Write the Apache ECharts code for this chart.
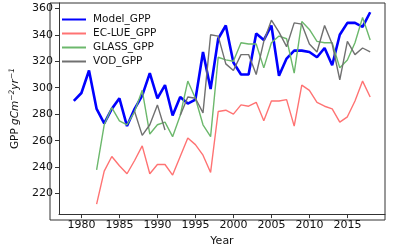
<!DOCTYPE html>
<html>
<head>
<meta charset="utf-8">
<script src="https://cdn.jsdelivr.net/npm/echarts@6/dist/echarts.min.js"></script>
<style>
  html, body { margin: 0; padding: 0; background: #fff; }
  #chart { width: 393px; height: 252px; }
</style>
</head>
<body>
<div id="chart"></div>
<script>
// years 1979..2018
const years = [];
for (let y = 1979; y <= 2018; y++) years.push(y);

const modelGPP = [290, 296, 313, 284, 273, 284, 292, 271, 284, 294, 311, 292, 302, 279, 293, 288, 291, 327, 299,
  337, 347, 319, 310, 310, 341, 336, 347, 309, 322, 328, 328, 327, 323, 330, 317, 340, 349, 349, 346, 357];
const ecluGPP = [null, null, null, 212, 237, 248, 241, 235, 245, 256, 235, 242, 242, 234, 248, 262, 257, 249, 236,
  282, 283, 280, 287, 286, 289, 275, 290, 290, 291, 271, 302, 298, 289, 286, 284, 274, 278, 290, 305, 293];
const glassGPP = [null, null, null, 238, 272, 285, 275, 272, 282, 298, 265, 272, 274, 263, 279, 305, 292, 272, 263,
  323, 321, 320, 334, 333, 333, 315, 334, 339, 337, 311, 350, 344, 335, 334, 334, 315, 321, 334, 353, 336];
const vodGPP = [null, null, null, null, null, null, null, null, 282, 264, 272, 287, 268, null, 279, 293, 292, 281, 340,
  339, 318, 313, 325, 325, 310, 335, 351, 342, 331, 349, 348, 333, 327, 347, 333, 306, 335, 325, 330, 327];

const xTicks = [1980, 1985, 1990, 1995, 2000, 2005, 2010, 2015];
const yTicks = [220, 240, 260, 280, 300, 320, 340, 360];

const seriesDefs = [
  { name: 'Model_GPP', data: modelGPP, color: '#0000ff', width: 2.6 },
  { name: 'EC-LUE_GPP', data: ecluGPP, color: '#ff7373', width: 1.4 },
  { name: 'GLASS_GPP', data: glassGPP, color: '#6cb86c', width: 1.4 },
  { name: 'VOD_GPP', data: vodGPP, color: '#707070', width: 1.4 }
];

const font = 'DejaVu Sans';
const chart = echarts.init(document.getElementById('chart'));

const option = {
  animation: false,
  textStyle: { fontFamily: font },
  grid: { left: 50, right: 8, top: 3, bottom: 32 },
  legend: {
    orient: 'vertical',
    left: 56,
    top: 9,
    itemWidth: 24,
    itemHeight: 12,
    itemGap: 3,
    itemStyle: { color: 'rgba(0,0,0,0)', borderWidth: 0 },
    textStyle: { fontFamily: font, fontSize: 10.5, color: '#111', padding: [0, 0, 0, 2] },
    data: seriesDefs.map(s => s.name)
  },
  xAxis: {
    type: 'value',
    min: 1977.05,
    max: 2019.95,
    name: 'Year',
    nameLocation: 'middle',
    nameGap: 20,
    nameTextStyle: { fontFamily: font, fontSize: 11, color: '#111' },
    axisLine: { onZero: false, lineStyle: { color: '#333', width: 1 } },
    axisTick: { show: true, length: 4, customValues: xTicks, lineStyle: { color: '#333' } },
    axisLabel: { customValues: xTicks, fontSize: 11, color: '#111', margin: 6, formatter: v => String(v) },
    splitLine: { show: false }
  },
  yAxis: {
    type: 'value',
    min: 204.5,
    max: 364,
    name: '{a|GPP }{b|gCm}{c|−2}{b|yr}{c|−1}',
    nameLocation: 'middle',
    nameGap: 37,
    nameRotate: 90,
    nameTextStyle: {
      fontFamily: font,
      color: '#111',
      rich: {
        a: { fontSize: 10.5, fontFamily: font, color: '#111' },
        b: { fontSize: 10.5, fontFamily: font, fontStyle: 'italic', color: '#111' },
        c: { fontSize: 7.5, fontFamily: font, fontStyle: 'italic', color: '#111', verticalAlign: 'top', padding: [0, 0, 6, 0] }
      }
    },
    axisLine: { show: true, lineStyle: { color: '#333', width: 1 } },
    axisTick: { show: true, length: 4, customValues: yTicks, lineStyle: { color: '#333' } },
    axisLabel: { customValues: yTicks, fontSize: 11, color: '#111', margin: 6 },
    splitLine: { show: false }
  },
  series: seriesDefs.map(s => ({
    name: s.name,
    type: 'line',
    symbol: 'none',
    connectNulls: false,
    data: years.map((y, i) => [y, s.data[i]]),
    lineStyle: { color: s.color, width: s.width },
    itemStyle: { color: s.color }
  })),
  graphic: [
    // top and right frame of the axes box
    { type: 'rect', shape: { x: 50, y: 3, width: 335, height: 217 }, style: { fill: 'none', stroke: '#333', lineWidth: 1 }, silent: true }
  ]
};

chart.setOption(option);
</script>
</body>
</html>
